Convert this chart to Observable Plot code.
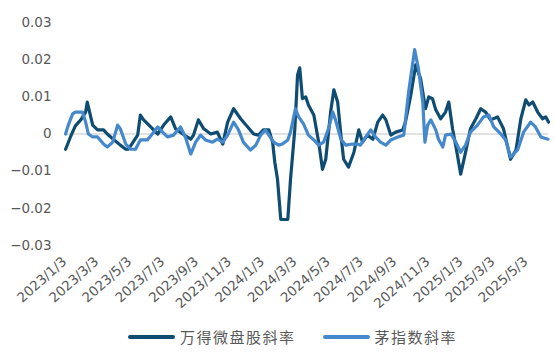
<!DOCTYPE html>
<html>
<head>
<meta charset="utf-8">
<script src="https://cdn.jsdelivr.net/npm/d3@7"></script>
<script src="https://cdn.jsdelivr.net/npm/@observablehq/plot@0.6"></script>
<style>
  html, body { margin: 0; padding: 0; background: #ffffff; }
  #chart { width: 555px; height: 354px; position: relative; overflow: hidden; }
  #legend { position: absolute; left: 128px; top: 326px; display: flex; align-items: center;
    font-family: "Noto Sans CJK SC", sans-serif; font-size: 15px; color: #595959; letter-spacing: 1.5px; }
  .sw { display: inline-block; width: 47px; height: 4px; border-radius: 2px; margin-right: 5px; }
  .item { display: flex; align-items: center; margin-right: 27px; }
</style>
</head>
<body>
<div id="chart"></div>
<script>
const seriesNames = ["万得微盘股斜率", "茅指数斜率"];
const seriesColors = ["#0f4c72", "#4589cc"];

const windDates = ["2023-01-05","2023-01-14","2023-01-23","2023-02-02","2023-02-11","2023-02-14","2023-02-24","2023-03-05","2023-03-16","2023-03-23","2023-04-03","2023-04-16","2023-04-26","2023-05-01","2023-05-18","2023-05-23","2023-05-29","2023-06-11","2023-06-24","2023-07-05","2023-07-18","2023-07-27","2023-08-09","2023-08-24","2023-08-29","2023-09-07","2023-09-17","2023-09-30","2023-10-12","2023-10-22","2023-10-31","2023-11-11","2023-11-24","2023-12-07","2023-12-18","2023-12-27","2024-01-05","2024-01-15","2024-01-22","2024-01-26","2024-01-31","2024-02-06","2024-02-19","2024-02-24","2024-03-03","2024-03-08","2024-03-12","2024-03-17","2024-03-23","2024-03-28","2024-04-07","2024-04-16","2024-04-23","2024-04-29","2024-05-08","2024-05-14","2024-05-21","2024-05-27","2024-06-01","2024-06-10","2024-06-20","2024-06-29","2024-07-06","2024-07-15","2024-07-25","2024-08-03","2024-08-12","2024-08-18","2024-08-27","2024-09-05","2024-09-18","2024-09-23","2024-10-03","2024-10-12","2024-10-21","2024-10-30","2024-11-05","2024-11-12","2024-11-18","2024-11-27","2024-12-06","2024-12-12","2024-12-19","2024-12-28","2025-01-03","2025-01-12","2025-01-21","2025-01-31","2025-02-09","2025-02-18","2025-02-27","2025-03-12","2025-03-23","2025-04-05","2025-04-15","2025-04-24","2025-05-03","2025-05-09","2025-05-16","2025-05-25","2025-06-03","2025-06-09","2025-06-14"];
const windValues = [-0.0041,-0.0008,0.0022,0.0038,0.0059,0.0086,0.0024,0.0011,0.0011,0,-0.0014,-0.003,-0.0041,-0.0041,-0.0003,0.0051,0.0038,0.0019,0,0.0024,0.0046,0.0014,0,-0.0014,-0.0003,0.0038,0.0014,0,0.0005,-0.0027,0.0032,0.0068,0.0041,0.0019,0,-0.0003,0.0011,0.0011,-0.0022,-0.0076,-0.0122,-0.023,-0.023,-0.0122,0.0014,0.0159,0.0178,0.0095,0.01,0.0078,0.0051,-0.0022,-0.0095,-0.0068,0.0059,0.0119,0.0086,-0.0003,-0.0068,-0.0089,-0.0049,0.0011,-0.0022,-0.0003,-0.0014,0.0032,0.0051,0.0038,-0.0003,0.0005,0.0011,0.0032,0.0105,0.0186,0.0149,0.0068,0.01,0.0095,0.0065,0.0041,0.0059,0.0086,0.0014,-0.0057,-0.0108,-0.0049,0.0014,0.0041,0.0068,0.0059,0.0038,0.0046,0.0014,-0.0068,-0.0043,0.0041,0.0092,0.0078,0.0086,0.0059,0.0041,0.0046,0.0032];

const maoDates = ["2023-01-05","2023-01-10","2023-01-18","2023-01-23","2023-02-05","2023-02-11","2023-02-16","2023-02-24","2023-03-05","2023-03-16","2023-03-23","2023-04-02","2023-04-11","2023-04-16","2023-04-26","2023-05-05","2023-05-14","2023-05-23","2023-06-05","2023-06-14","2023-06-24","2023-07-03","2023-07-12","2023-07-23","2023-08-05","2023-08-14","2023-08-24","2023-09-02","2023-09-11","2023-09-20","2023-10-03","2023-10-12","2023-10-22","2023-10-31","2023-11-11","2023-11-20","2023-11-29","2023-12-12","2023-12-22","2023-12-31","2024-01-09","2024-01-15","2024-01-24","2024-02-02","2024-02-09","2024-02-19","2024-02-24","2024-03-04","2024-03-10","2024-03-19","2024-03-28","2024-04-07","2024-04-16","2024-04-25","2024-05-04","2024-05-12","2024-05-17","2024-05-27","2024-06-05","2024-06-18","2024-06-27","2024-07-02","2024-07-12","2024-07-21","2024-07-30","2024-08-08","2024-08-18","2024-08-27","2024-09-09","2024-09-20","2024-09-29","2024-10-10","2024-10-17","2024-10-25","2024-10-29","2024-11-03","2024-11-09","2024-11-18","2024-11-23","2024-12-01","2024-12-06","2024-12-16","2024-12-25","2025-01-03","2025-01-12","2025-01-21","2025-02-03","2025-02-14","2025-02-24","2025-03-05","2025-03-18","2025-03-27","2025-04-05","2025-04-18","2025-04-29","2025-05-12","2025-05-21","2025-05-31","2025-06-13"];
const maoValues = [0,0.0024,0.0054,0.0059,0.0059,0.0032,0,-0.0008,-0.0008,-0.0027,-0.0035,-0.0022,0.0024,0.0014,-0.0027,-0.0041,-0.0041,-0.0016,-0.0016,0,0.0019,0.0005,-0.0008,-0.0003,0.0019,-0.0008,-0.0054,-0.0022,-0.0003,-0.0016,-0.0022,-0.0014,-0.0022,-0.0003,0.0032,0.0011,-0.0022,-0.0043,-0.003,-0.0003,0.0011,-0.0003,-0.0022,-0.003,-0.0027,-0.0016,0.0005,0.0068,0.0046,0.0027,-0.0003,-0.0016,-0.003,-0.0022,0.0014,0.0059,0.0038,-0.0014,-0.003,-0.0027,-0.0027,-0.003,-0.0008,0.0011,-0.0008,-0.0022,-0.003,-0.0016,-0.0008,-0.0003,0.0114,0.0227,0.0176,0.0086,-0.0022,0.0024,0.0038,0.0011,-0.0014,-0.0035,-0.0003,0,-0.0022,-0.0049,-0.003,0.0005,0.0024,0.0046,0.0051,0.0019,0,-0.0016,-0.0062,-0.0043,0.0005,0.0032,0.0019,-0.0008,-0.0014];

const yTicks = [-0.03, -0.02, -0.01, 0, 0.01, 0.02, 0.03];
const xTickLabels = ["2023/1/3","2023/3/3","2023/5/3","2023/7/3","2023/9/3","2023/11/3","2024/1/3","2024/3/3","2024/5/3","2024/7/3","2024/9/3","2024/11/3","2025/1/3","2025/3/3","2025/5/3"];

const toDate = s => { const p = s.split(/[-\/]/).map(Number); return new Date(Date.UTC(p[0], p[1] - 1, p[2])); };
const xTicks = xTickLabels.map(toDate);
const rows = [
  ...windDates.map((d, i) => ({date: toDate(d), value: windValues[i], series: seriesNames[0]})),
  ...maoDates.map((d, i) => ({date: toDate(d), value: maoValues[i], series: seriesNames[1]}))
];

const fmtY = v => v === 0 ? "0" : (v < 0 ? "\u2212" : "") + Math.abs(v).toFixed(2);

const chart = Plot.plot({
  width: 555,
  height: 320,
  marginTop: 22,
  marginBottom: 75,
  marginLeft: 64,
  marginRight: 7,
  style: {fontFamily: "DejaVu Sans, sans-serif", color: "#595959", background: "#ffffff"},
  x: {type: "utc", domain: [toDate("2023-01-03"), toDate("2025-06-14")]},
  y: {domain: [-0.03, 0.03]},
  color: {domain: seriesNames, range: seriesColors},
  marks: [
    Plot.ruleY([0], {stroke: "#d9d9d9", strokeWidth: 1.5}),
    Plot.axisY({ticks: yTicks, tickFormat: fmtY, tickSize: 0, tickPadding: 13, label: null,
      fontSize: 13.5, fill: "#595959", style: {letterSpacing: "1.2px"}}),
    Plot.axisX({ticks: xTicks, tickFormat: d => xTickLabels[xTicks.findIndex(t => +t === +d)],
      tickSize: 0, tickPadding: 14, tickRotate: -42, label: null, fontSize: 13.5, fill: "#595959",
      style: {letterSpacing: "1.6px"}}),
    Plot.line(rows.filter(r => r.series === seriesNames[0]), {x: "date", y: "value", stroke: "series", strokeWidth: 3.2, curve: "linear"}),
    Plot.line(rows.filter(r => r.series === seriesNames[1]), {x: "date", y: "value", stroke: "series", strokeWidth: 3.2, curve: "linear"})
  ]
});
const root = document.getElementById("chart");
root.appendChild(chart);

const legend = document.createElement("div");
legend.id = "legend";
seriesNames.forEach((n, i) => {
  const item = document.createElement("div");
  item.className = "item";
  const sw = document.createElement("span");
  sw.className = "sw";
  sw.style.background = seriesColors[i];
  const t = document.createElement("span");
  t.textContent = n;
  item.appendChild(sw);
  item.appendChild(t);
  legend.appendChild(item);
});
root.appendChild(legend);
</script>
</body>
</html>
